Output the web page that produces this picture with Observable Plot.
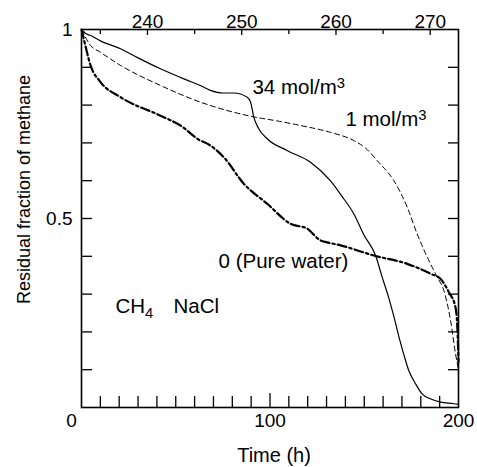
<!DOCTYPE html>
<html>
<head>
<meta charset="utf-8">
<script src="https://cdn.jsdelivr.net/npm/d3@7"></script>
<script src="https://cdn.jsdelivr.net/npm/@observablehq/plot@0.6"></script>
<style>
  html, body { margin: 0; padding: 0; background: white; }
  #chart { width: 477px; height: 467px; }
</style>
</head>
<body>
<div id="chart"></div>
<script>
// ---- data (time in h, residual fraction) ----
const t34 = [0, 2, 4.8, 10, 20.7, 30, 41.9, 55, 63, 68.4, 75, 80.8, 87.9, 89.7, 91.4, 94.1, 98.5, 109, 121.5, 132, 138, 144.5, 150, 156, 159.5, 163, 166, 168.5, 171, 173.6, 177.2, 180.7, 185, 190.5, 197.5, 200];
const v34 = [1.0, 0.99, 0.984, 0.97, 0.949, 0.925, 0.896, 0.868, 0.852, 0.839, 0.832, 0.832, 0.821, 0.808, 0.768, 0.737, 0.711, 0.680, 0.649, 0.600, 0.560, 0.512, 0.455, 0.402, 0.345, 0.29, 0.235, 0.185, 0.14, 0.098, 0.063, 0.036, 0.023, 0.014, 0.010, 0.008];

const t1 = [0, 4.8, 10, 20.7, 41.9, 63, 80.8, 92.3, 104, 116.2, 132, 144.5, 151, 156.9, 165.7, 172.8, 178.1, 183.4, 188.7, 192.2, 195.8, 198.4, 200];
const v1 = [1.0, 0.958, 0.94, 0.905, 0.852, 0.808, 0.781, 0.768, 0.758, 0.746, 0.728, 0.706, 0.685, 0.653, 0.600, 0.530, 0.459, 0.398, 0.345, 0.310, 0.230, 0.143, 0.10];

const tPW = [0, 1.2, 4.8, 10.1, 20.7, 41.9, 52.5, 63.1, 66.7, 75.5, 86.1, 98.5, 110.9, 119.7, 126.8, 130.3, 137.4, 155.1, 172.8, 185.1, 190.5, 194.9, 198.4, 199.5, 200];
const vPW = [1.0, 0.975, 0.905, 0.861, 0.821, 0.772, 0.746, 0.706, 0.698, 0.662, 0.592, 0.539, 0.486, 0.473, 0.442, 0.437, 0.429, 0.402, 0.380, 0.354, 0.340, 0.305, 0.265, 0.20, 0.12];

// ---- axes ----
const xMinor = [10,20,30,40,50,60,70,80,90,110,120,130,140,150,160,170,180,190];
const xMajor = [100];
const xLabels = [100, 200];
const yMinor = [0.1,0.2,0.3,0.4,0.5,0.6,0.7,0.8,0.9];
const yLabels = [0.5, 1];
const tempDomain = [233, 273];        // top axis (temperature) spans the same frame
const tempMajor = [240, 250, 260, 270];
const tempMinor = [235, 245, 255, 265];

// ---- annotations ----
const annoText = ["34 mol/m3", "1 mol/m3", "0 (Pure water)", "CH4", "NaCl"];
const annoT = [90.7, 140, 72.7, 18, 48.8];
const annoV = [0.846, 0.761, 0.386, 0.267, 0.267];

const mk = (ts, vs) => ts.map((t, i) => ({t, v: vs[i]}));
const s34 = mk(t34, v34), s1 = mk(t1, v1), sPW = mk(tPW, vPW);
const annos = annoText.map((s, i) => ({s, t: annoT[i], v: annoV[i]}));

const xDomain = [0, 200];
const tempToTime = T => xDomain[0] + (T - tempDomain[0]) / (tempDomain[1] - tempDomain[0]) * (xDomain[1] - xDomain[0]);
const timeToTemp = x => tempDomain[0] + (x - xDomain[0]) / (xDomain[1] - xDomain[0]) * (tempDomain[1] - tempDomain[0]);

const FS = 19;

const chart = Plot.plot({
  width: 477,
  height: 467,
  marginLeft: 81,
  marginRight: 19,
  marginTop: 29,
  marginBottom: 60,
  style: {fontFamily: "'Liberation Sans', Arial, sans-serif", fontSize: FS + "px", background: "white", color: "black", overflow: "visible"},
  x: {domain: xDomain},
  y: {domain: [0, 1]},
  marks: [
    // inward ticks
    Plot.axisX({anchor: "bottom", ticks: xMinor, tickSize: -11, fill: "none", label: null, strokeWidth: 1.3}),
    Plot.axisX({anchor: "bottom", ticks: xMajor, tickSize: -14, fill: "none", label: null, strokeWidth: 1.3}),
    Plot.axisY({anchor: "left", ticks: yMinor, tickSize: -11, fill: "none", label: null, strokeWidth: 1.3}),
    Plot.axisY({anchor: "right", ticks: yMinor, tickSize: -11, fill: "none", label: null, strokeWidth: 1.3}),
    Plot.axisX({anchor: "top", ticks: tempMajor.map(tempToTime), tickSize: -5, fill: "none", label: null, strokeWidth: 1.3}),
    Plot.axisX({anchor: "top", ticks: tempMinor.map(tempToTime), tickSize: -4, fill: "none", label: null, strokeWidth: 1.3}),
    // tick labels
    Plot.axisX({anchor: "bottom", ticks: xLabels, tickSize: 0, tickPadding: 6, tickFormat: d => String(d), label: null}),
    Plot.axisX({anchor: "bottom", ticks: [0], tickSize: 0, tickPadding: 6, dx: -10, tickFormat: d => String(d), label: null}),
    Plot.axisY({anchor: "left", ticks: yLabels, tickSize: 0, tickPadding: 9, tickFormat: d => String(d), label: null}),
    Plot.axisX({anchor: "top", ticks: tempMajor.map(tempToTime), tickSize: 0, tickPadding: 2, tickFormat: d => String(Math.round(timeToTemp(d))), label: null}),
    // axis titles
    Plot.text(["Time (h)"], {frameAnchor: "bottom", textAnchor: "middle", lineAnchor: "middle", dx: 4, dy: 48, fontSize: 20}),
    Plot.text(["Residual fraction of methane"], {frameAnchor: "left", textAnchor: "middle", lineAnchor: "middle", rotate: -90, dx: -57, dy: -29, fontSize: 18}),
    // curves
    Plot.line(s1, {x: "t", y: "v", stroke: "black", strokeWidth: 1, strokeDasharray: "5,3.5", curve: "monotone-x"}),
    Plot.line(sPW, {x: "t", y: "v", stroke: "black", strokeWidth: 2.2, strokeDasharray: "9,3,2.5,3", curve: "monotone-x"}),
    Plot.line(s34, {x: "t", y: "v", stroke: "black", strokeWidth: 1.2, curve: "monotone-x"}),
    // annotations
    Plot.text(annos, {x: "t", y: "v", text: "s", textAnchor: "start", fontSize: 20.5}),
    Plot.frame({stroke: "black", strokeWidth: 1.6})
  ]
});

// superscript / subscript rendering
chart.querySelectorAll("text").forEach(el => {
  const s = el.textContent;
  if (/mol\/m3$/.test(s)) {
    el.textContent = s.slice(0, -1);
    const ts = document.createElementNS("http://www.w3.org/2000/svg", "tspan");
    ts.setAttribute("dy", "-0.45em");
    ts.setAttribute("font-size", "0.72em");
    ts.textContent = "3";
    el.appendChild(ts);
  } else if (s === "CH4") {
    el.textContent = "CH";
    const ts = document.createElementNS("http://www.w3.org/2000/svg", "tspan");
    ts.setAttribute("dy", "0.3em");
    ts.setAttribute("font-size", "0.72em");
    ts.textContent = "4";
    el.appendChild(ts);
  }
});

document.getElementById("chart").appendChild(chart);
</script>
</body>
</html>
